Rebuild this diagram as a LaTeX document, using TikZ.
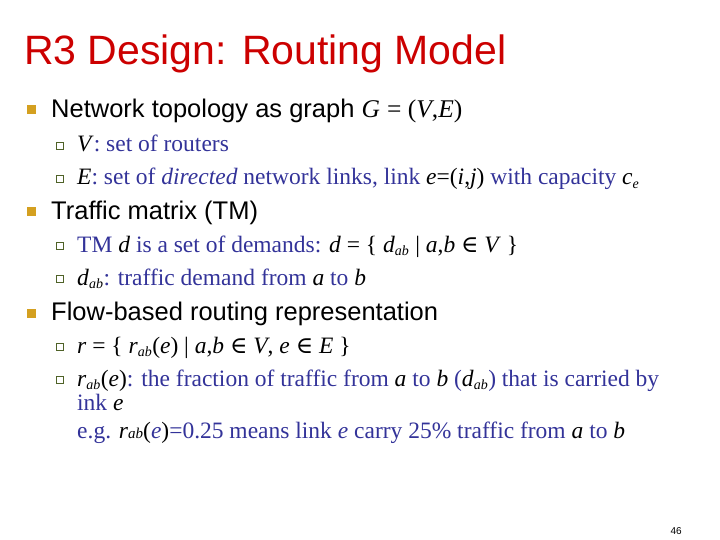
\documentclass[tikz,border=0pt]{standalone}
\usepackage{fontspec}
\setmainfont{Liberation Serif}
\setsansfont{Liberation Sans}
\newfontfamily\symf{DejaVu Serif}
\newcommand{\elt}{{\symf ∈}}
\newcommand{\sub}[1]{$_{\textit{\fontsize{14}{14}\selectfont #1}}$}
\definecolor{titlered}{HTML}{CC0000}
\definecolor{subblue}{HTML}{333399}
\definecolor{gold}{HTML}{D4A020}
\definecolor{olive}{HTML}{4F6228}
\begin{document}
\begin{tikzpicture}[x=1pt,y=-1pt,
  title/.style={anchor=base west,inner sep=0,font=\sffamily\fontsize{41}{44}\selectfont,text=titlered},
  lvl1/.style={anchor=base west,inner sep=0,font=\sffamily\fontsize{25.5}{28}\selectfont},
  lvl2/.style={anchor=base west,inner sep=0,font=\fontsize{23.5}{26}\selectfont,text=subblue},
  bul1/.style={fill=gold,minimum size=9pt,inner sep=0},
  bul2/.style={draw=olive,line width=0.9pt,minimum size=6.5pt,inner sep=0}]
\path[use as bounding box] (0,0) rectangle (720,540);
\node[title] (t) at (24,65) {R3 Design: Routing Model};
\node[bul1] (b1) at (31,110) {};
\node[lvl1] (l1) at (51,118) {Network topology as graph {\rmfamily\itshape G} {\rmfamily = (\textit{V},\textit{E})}};
\node[bul2] (s1) at (60,146) {};
\node[lvl2] (m1) at (77,152) {\textcolor{black}{\textit{V}}: set of routers};
\node[bul2] (s2) at (60,179) {};
\node[lvl2] (m2) at (77,185) {\textcolor{black}{\textit{E}}: set of \textit{directed} network links, link \textcolor{black}{\textit{e}=(\textit{i},\textit{j})} with capacity \textcolor{black}{\textit{c}\sub{e}}};
\node[bul1] (b2) at (31,212) {};
\node[lvl1] (l2) at (51,220) {Traffic matrix (TM)};
\node[bul2] (s3) at (60,246) {};
\node[lvl2] (m3) at (77,252) {TM \textcolor{black}{\textit{d}} is a set of demands: \textcolor{black}{\textit{d} = \{ \textit{d}\sub{ab} | \textit{a},\textit{b} \elt{} \textit{V} \}}};
\node[bul2] (s4) at (60,279) {};
\node[lvl2] (m4) at (77,285) {\textcolor{black}{\textit{d}\sub{ab}}: traffic demand from \textcolor{black}{\textit{a}} to \textcolor{black}{\textit{b}}};
\node[bul1] (b3) at (31,313) {};
\node[lvl1] (l3) at (51,320) {Flow-based routing representation};
\node[bul2] (s5) at (60,347) {};
\node[lvl2] (m5) at (77,353) {\textcolor{black}{\textit{r} = \{ \textit{r}\sub{ab}(\textit{e}) | \textit{a},\textit{b} \elt{} \textit{V}, \textit{e} \elt{} \textit{E} \}}};
\node[bul2] (s6) at (60,380) {};
\node[lvl2] (m6) at (77,386) {\textcolor{black}{\textit{r}\sub{ab}(\textit{e})}: the fraction of traffic from \textcolor{black}{\textit{a}} to \textcolor{black}{\textit{b}} (\textcolor{black}{\textit{d}\sub{ab}}) that is carried by};
\node[lvl2] (m7) at (77,410) {ink \textcolor{black}{\textit{e}}};
\node[lvl2] (m8) at (77,438) {e.g. \textcolor{black}{\textit{r}{\itshape\fontsize{15}{15}\selectfont ab}(}\textit{e}\textcolor{black}{)}=0.25 means link \textit{e} carry 25\% traffic from \textcolor{black}{\textit{a}} to \textcolor{black}{\textit{b}}};
\node[anchor=base east,inner sep=0,font=\sffamily\fontsize{10}{12}\selectfont] (pg) at (682,534) {46};
\end{tikzpicture}
\end{document}
